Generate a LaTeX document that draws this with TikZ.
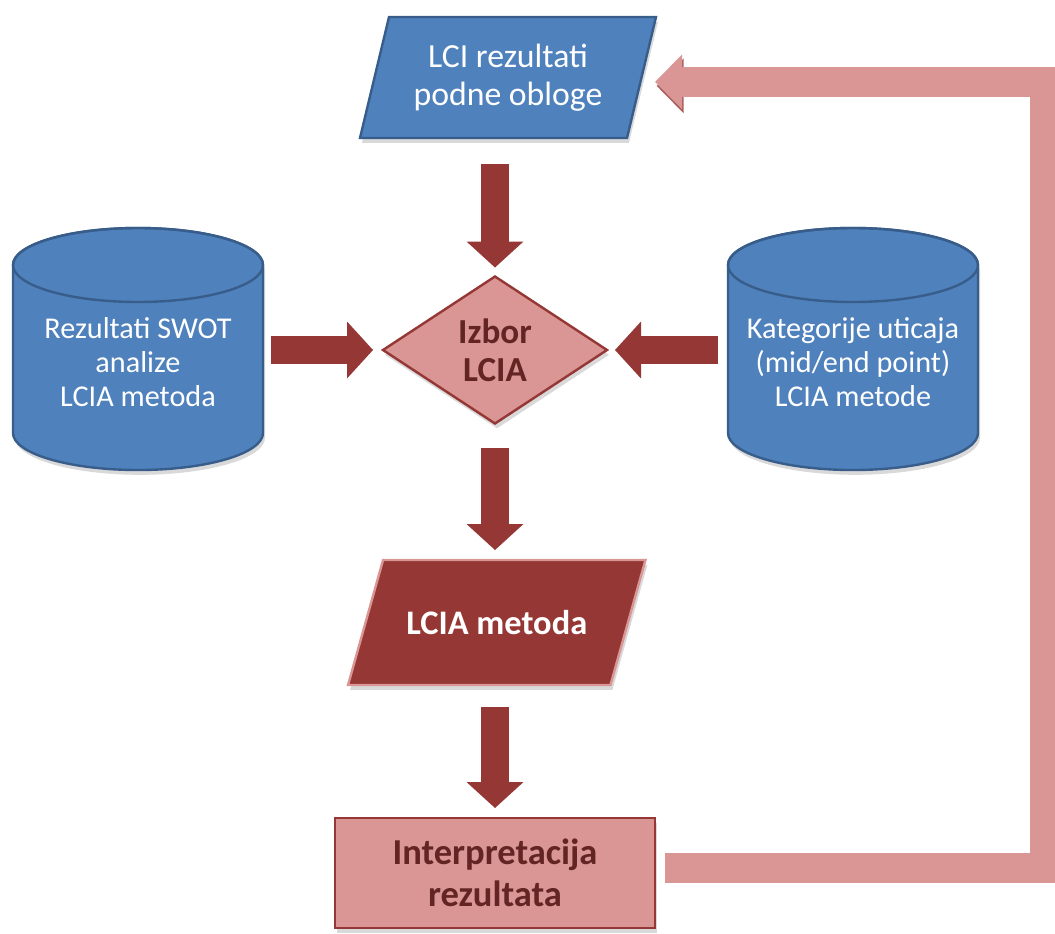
\documentclass[tikz,border=0pt]{standalone}
\usepackage{fontspec}
\setmainfont{Carlito}
\usetikzlibrary{shapes.geometric,arrows.meta,shadows}
\definecolor{bluefill}{RGB}{79,129,189}
\definecolor{blueline}{RGB}{56,93,138}
\definecolor{darkred}{RGB}{149,55,53}
\definecolor{pinkfill}{RGB}{217,150,148}
\definecolor{redtext}{RGB}{99,37,35}
\pgfdeclarelayer{bg}
\pgfsetlayers{bg,main}

% slanted outline behind a node: #1 node, #2 half slant, #3 colours
\newcommand{\slantshape}[3]{%
  \begin{pgfonlayer}{bg}
    \filldraw[shapeline, #3] ([xshift=#2]#1.north west) -- ([xshift=#2]#1.north east)
      -- ([xshift=-#2]#1.south east) -- ([xshift=-#2]#1.south west) -- cycle;
  \end{pgfonlayer}}

% drum outline filling a node box: #1 node
\newcommand{\drumshape}[1]{%
  \begin{pgfonlayer}{bg}
    \filldraw[shapeline, fill=bluefill, draw=blueline] ([yshift=-9.25mm]#1.north west)
      -- ([yshift=9.25mm]#1.south west) arc[start angle=180, end angle=360, x radius=31.25mm, y radius=9.25mm]
      -- ([yshift=-9.25mm]#1.north east) arc[start angle=0, end angle=180, x radius=31.25mm, y radius=9.25mm]
      -- cycle;
    \draw[line width=0.6mm, draw=blueline] ([yshift=-9.25mm]#1.north) ellipse[x radius=31.25mm, y radius=9.25mm];
  \end{pgfonlayer}}

\tikzset{
  shapeline/.style={line width=0.6mm, line join=miter,
    drop shadow={shadow xshift=0.5mm, shadow yshift=-1.2mm, opacity=0.3}},
  shapebase/.style={draw, shapeline, outer sep=0pt, inner sep=0pt, align=center},
  inbox/.style={rectangle, outer sep=0pt, inner sep=0pt, align=center, text=white},
  database/.style={rectangle, outer sep=0pt, inner sep=0pt, minimum width=62.5mm, minimum height=60.5mm},
  dbtext/.style={align=center, text=white, font=\fontsize{21.5}{24}\selectfont},
  decision/.style={shapebase, diamond, fill=pinkfill, draw=darkred, text=redtext,
    minimum width=56mm, minimum height=36.75mm, font=\bfseries\fontsize{25}{27}\selectfont},
  procbox/.style={shapebase, rectangle, fill=pinkfill, draw=darkred, text=redtext,
    minimum width=80mm, minimum height=27.5mm, font=\bfseries\fontsize{26}{30}\selectfont},
  blockarrow/.style={draw=darkred, line width=7mm,
    -{Triangle[width=14.25mm, length=6.5mm, line width=0pt]}},
  feedback/.style={draw=pinkfill, line width=7.5mm, line join=miter,
    -{Triangle[width=13.75mm, length=6.75mm, line width=0pt]},
    preaction={draw=darkred, opacity=0.8, transform canvas={xshift=0.4mm, yshift=-1mm}}}
}

\begin{document}
\begin{tikzpicture}[x=0.25mm, y=-0.25mm]
  \useasboundingbox (0,0) rectangle (1055,933);

  % inputs and results
  \node[inbox, minimum width=66.75mm, minimum height=30.25mm, font=\fontsize{24}{27}\selectfont]
    (lci) at (508,77.5) {LCI rezultati\\podne obloge};
  \slantshape{lci}{3.625mm}{fill=bluefill, draw=blueline}
  \node[decision] (izbor) at (495,350) {Izbor\\LCIA};
  \node[database] (swot) at (138,349) {};
  \drumshape{swot}
  \node[dbtext] (swottext) at (138,362) {Rezultati SWOT\\analize\\LCIA metoda};
  \node[database] (kat) at (853,349) {};
  \drumshape{kat}
  \node[dbtext] (kattext) at (853,362) {Kategorije uticaja\\(mid/end point)\\LCIA metode};
  \node[inbox, minimum width=65.6mm, minimum height=31.25mm, font=\bfseries\fontsize{24.5}{27}\selectfont]
    (metoda) at (496.75,622.5) {LCIA metoda};
  \slantshape{metoda}{4.375mm}{fill=darkred, draw=pinkfill}
  \node[procbox] (interp) at (495,873) {Interpretacija\\rezultata};

  % block arrows
  \draw[blockarrow, shorten <=6.5mm, shorten >=2.25mm] (lci.south -| izbor.north) -- (izbor.north);
  \draw[blockarrow, shorten <=2mm, shorten >=2.5mm] (swot.east |- izbor.west) -- (izbor.west);
  \draw[blockarrow, shorten <=2.5mm, shorten >=2mm] (kat.west |- izbor.east) -- (izbor.east);
  \draw[blockarrow, shorten <=6mm, shorten >=2.5mm] (izbor.south) -- (izbor.south |- metoda.north);
  \draw[blockarrow, shorten <=5.5mm, shorten >=2.5mm] (izbor.south |- metoda.south) -- (interp.north);

  % feedback loop
  \coordinate (fbx) at (1045,0);
  \draw[feedback] ([xshift=2.5mm, yshift=1.25mm]interp.east) -| ([yshift=-1.1mm]lci.east -| fbx)
    -- ([xshift=3.4mm, yshift=-1.1mm]lci.east);
\end{tikzpicture}
\end{document}
